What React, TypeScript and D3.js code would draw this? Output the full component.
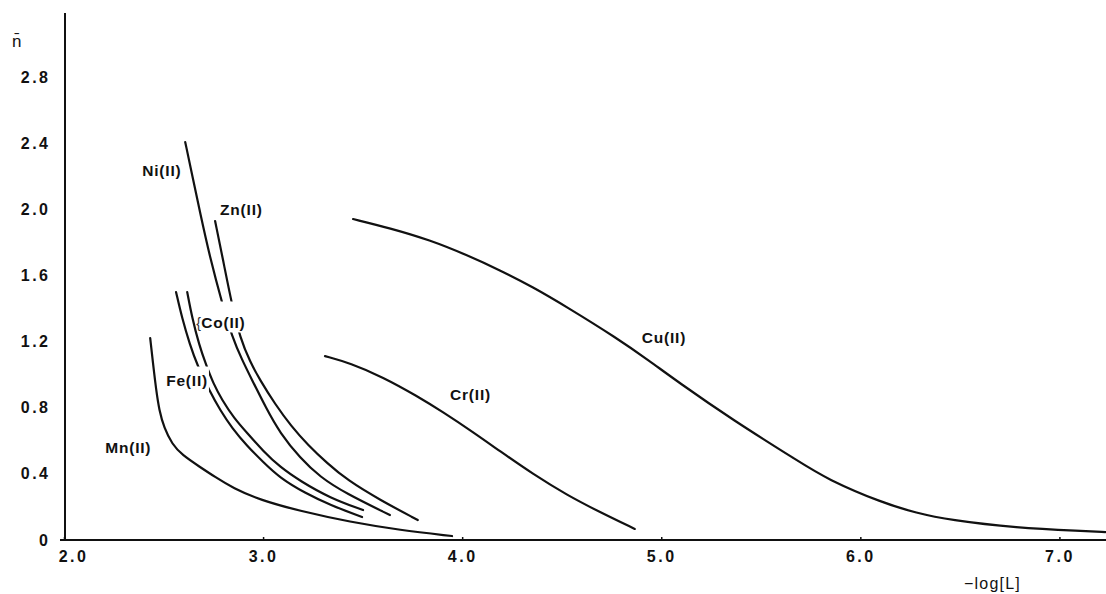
import React, { useEffect, useRef } from 'react';
import * as d3 from 'd3';

const W = 1106;
const H = 594;

const X_TICKS = [2, 3, 4, 5, 6, 7];
const Y_TICKS = [0, 0.4, 0.8, 1.2, 1.6, 2.0, 2.4, 2.8];

// curves: [-log[L], n-bar]
const MN = [[2.433, 1.221], [2.448, 1.058], [2.463, 0.907], [2.478, 0.786], [2.503, 0.677], [2.543, 0.58], [2.593, 0.514], [2.684, 0.441], [2.759, 0.381], [2.849, 0.314], [2.985, 0.242], [3.186, 0.175], [3.437, 0.109], [3.688, 0.06], [3.949, 0.024]];
const FE = [[2.563, 1.499], [2.593, 1.342], [2.633, 1.179], [2.669, 1.058], [2.734, 0.895], [2.784, 0.786], [2.844, 0.677], [2.92, 0.568], [3.0, 0.472], [3.085, 0.375], [3.211, 0.284], [3.336, 0.212], [3.497, 0.139]];
const CO = [[2.619, 1.499], [2.644, 1.342], [2.679, 1.179], [2.714, 1.058], [2.749, 0.949], [2.794, 0.846], [2.854, 0.737], [2.92, 0.647], [3.0, 0.538], [3.085, 0.441], [3.186, 0.357], [3.336, 0.254], [3.502, 0.181]];
const NI = [[2.609, 2.406], [2.644, 2.207], [2.684, 1.977], [2.734, 1.705], [2.794, 1.433], [2.845, 1.227], [2.895, 1.088], [2.945, 0.967], [3.015, 0.798], [3.085, 0.647], [3.186, 0.496], [3.286, 0.381], [3.412, 0.284], [3.637, 0.151]];
const ZN = [[2.759, 1.929], [2.804, 1.663], [2.844, 1.421], [2.885, 1.221], [2.935, 1.076], [2.985, 0.967], [3.06, 0.822], [3.141, 0.689], [3.226, 0.574], [3.321, 0.466], [3.422, 0.363], [3.587, 0.242], [3.777, 0.121]];
const CR = [[3.311, 1.112], [3.437, 1.07], [3.602, 0.985], [3.773, 0.871], [3.903, 0.774], [4.054, 0.653], [4.189, 0.538], [4.355, 0.399], [4.526, 0.272], [4.691, 0.169], [4.867, 0.067]];
const CU = [[3.452, 1.941], [3.637, 1.886], [3.838, 1.814], [4.024, 1.723], [4.189, 1.632], [4.355, 1.53], [4.526, 1.409], [4.777, 1.221], [4.942, 1.082], [5.078, 0.961], [5.359, 0.726], [5.695, 0.472], [5.831, 0.369], [6.112, 0.224], [6.282, 0.163], [6.448, 0.121], [6.784, 0.073], [7.115, 0.054], [7.231, 0.048]];

const NAMES = ['Mn(II)', 'Fe(II)', 'Co(II)', 'Ni(II)', 'Zn(II)', 'Cr(II)', 'Cu(II)'];
const CURVES = [MN, FE, CO, NI, ZN, CR, CU];
// where each name sits, in axis units (left edge, middle)
const LABEL_AT = [[2.207, 0.556], [2.513, 0.967], [2.689, 1.312], [2.393, 2.237], [2.784, 2.001], [3.939, 0.877], [4.902, 1.227]];

const FONT = '"Liberation Sans", Arial, sans-serif';

export default function App() {
  const ref = useRef<SVGSVGElement>(null);

  useEffect(() => {
    const svg = d3.select(ref.current);
    svg.selectAll('*').remove();

    const x = d3.scaleLinear().domain([2, 7.234]).range([64, W]);
    const y = d3.scaleLinear().domain([0, 2.8]).range([540, 77]);

    svg.append('rect').attr('width', W).attr('height', H).attr('fill', '#fff');

    // axes
    const yAxis = d3.axisLeft(y).tickValues(Y_TICKS).tickSize(0).tickPadding(17)
      .tickFormat((d: any) => (d === 0 ? '0' : d3.format('.1f')(d)));
    const gy = svg.append('g').attr('transform', 'translate(65,0)').call(yAxis);
    gy.select('.domain').remove();

    const xAxis = d3.axisBottom(x).tickValues(X_TICKS).tickSizeInner(-3).tickSizeOuter(0).tickPadding(11)
      .tickFormat(d3.format('.1f') as any);
    const gx = svg.append('g').attr('transform', 'translate(0,540)').call(xAxis);
    gx.select('.domain').remove();
    gx.selectAll('.tick line').attr('stroke', '#111').attr('stroke-width', 1.5);
    gx.selectAll('.tick text').filter((d: any) => d === 2).attr('dx', 9);

    svg.selectAll('.tick text')
      .attr('font-family', FONT)
      .attr('font-size', 16)
      .attr('font-weight', 'bold')
      .attr('letter-spacing', 2.5)
      .attr('fill', '#111');
    gy.selectAll('.tick text').attr('dx', 2.5);

    svg.append('line').attr('x1', 65).attr('x2', 65).attr('y1', 13).attr('y2', 541)
      .attr('stroke', '#111').attr('stroke-width', 2);
    svg.append('line').attr('x1', 60).attr('x2', W).attr('y1', 540).attr('y2', 540)
      .attr('stroke', '#111').attr('stroke-width', 2);

    svg.append('text').attr('x', 12).attr('y', 47).text('n\u0304')
      .attr('font-family', FONT).attr('font-size', 17).attr('fill', '#111');
    svg.append('text').attr('x', 964).attr('y', 589).text('\u2212log[L]')
      .attr('font-family', FONT).attr('font-size', 16).attr('letter-spacing', 1.2).attr('fill', '#111');

    // curves
    const line = d3.line<number[]>()
      .x(d => x(d[0]))
      .y(d => y(d[1]))
      .curve(d3.curveBasis);

    svg.append('g').selectAll('path')
      .data(CURVES)
      .enter()
      .append('path')
      .attr('d', d => line(d))
      .attr('fill', 'none')
      .attr('stroke', '#111')
      .attr('stroke-width', 2.2)
      .attr('stroke-linecap', 'round');

    // labels, with a white knock-out like the printed figure
    const labels = svg.append('g');
    NAMES.forEach((name, i) => {
      const g = labels.append('g');
      const t = g.append('text')
        .attr('x', x(LABEL_AT[i][0]))
        .attr('y', y(LABEL_AT[i][1]))
        .attr('dy', '0.35em')
        .attr('font-family', FONT)
        .attr('font-size', 15.5)
        .attr('font-weight', 'bold')
        .attr('letter-spacing', 0.8)
        .attr('fill', '#111')
        .text(name);
      const b = (t.node() as SVGTextElement).getBBox();
      const top = name === 'Co(II)' ? 13 : name === 'Fe(II)' ? 5 : 1;
      const bottom = name === 'Fe(II)' ? 4 : 1;
      g.insert('rect', 'text')
        .attr('x', b.x - 2)
        .attr('y', b.y - top)
        .attr('width', b.width + 3)
        .attr('height', b.height + top + bottom)
        .attr('fill', '#fff');
      if (name === 'Co(II)') {
        g.append('text')
          .attr('x', b.x - 5)
          .attr('y', y(LABEL_AT[i][1]))
          .attr('dy', '0.35em')
          .attr('font-family', FONT)
          .attr('font-size', 14)
          .attr('fill', '#333')
          .text('{');
      }
    });
  }, []);

  return (
    <svg ref={ref} width={W} height={H}
      style={{ position: 'absolute', left: 0, top: 0, display: 'block', background: '#fff' }} />
  );
}
